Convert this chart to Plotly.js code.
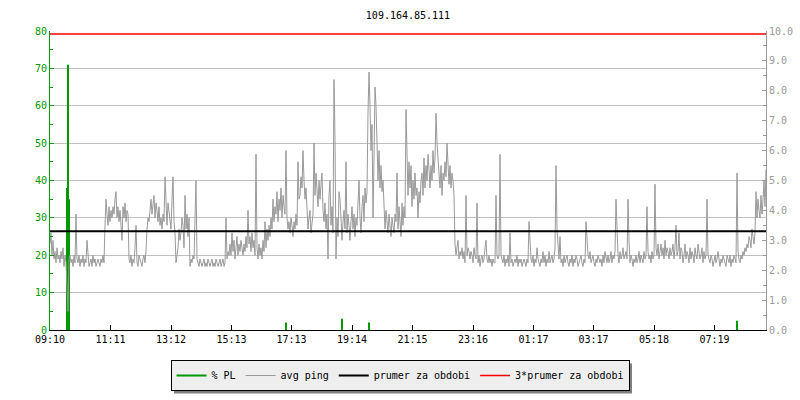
<!DOCTYPE html>
<html>
<head>
<meta charset="utf-8">
<script src="https://cdn.plot.ly/plotly-3.0.1.min.js"></script>
<style>html,body{margin:0;padding:0;background:#fff;}#chart{width:800px;height:400px;}</style>
</head>
<body>
<div id="chart"></div>
<script>
// ---- data ----
const chartTitle = "109.164.85.111";
const tickLabels = ["09:10","11:11","13:12","15:13","17:13","19:14","21:15","23:16","01:17","03:17","05:18","07:19"];
const sampleStepMin = 2; // minutes between ping samples, starting at 09:10
const pingValues = [
  23,26,20,24,19,21,18,22,19,20, 18,21,19,22,17,20,18,12,5,19,
  20,18,19,17,20,18,31,19,18,20, 17,19,18,20,17,19,18,24,19,17,
  18,19,17,20,18,19,17,18,19,18, 17,19,18,20,18,28,35,31,28,33,
  29,32,30,33,31,35,37,30,33,29, 32,28,24,33,30,34,29,32,31,19,
  18,20,17,19,18,22,28,18,17,20, 19,18,17,19,20,18,21,27,30,29,
  32,35,31,33,36,30,34,32,29,33, 28,30,27,31,29,41,33,28,34,31,
  30,27,35,41,29,26,18,20,22,27, 24,26,30,28,22,36,27,31,25,30,
  17,19,18,20,19,30,40,19,18,17, 19,18,17,18,19,17,18,17,19,18,
  17,18,19,17,18,17,19,18,17,18, 19,17,18,19,17,18,30,19,21,20,
  23,20,26,21,24,19,22,25,20,23, 21,24,22,20,23,21,25,22,32,23,
  25,21,26,22,24,20,47,22,19,23, 20,22,19,24,21,29,22,27,24,28,
  25,30,27,35,29,33,31,37,29,35, 32,38,30,36,33,31,48,30,27,29,
  26,30,28,25,29,27,31,28,45,35, 36,41,38,48,40,35,38,32,27,30,
  32,26,29,31,50,36,42,38,33,40, 35,39,42,32,29,34,27,31,19,36,
  40,28,33,26,67,51,19,30,25,37, 35,30,24,29,32,27,45,26,31,28,
  24,29,33,27,31,25,30,28,34,40, 30,26,33,36,29,38,34,37,58,69,
  60,48,55,30,46,65,60,44,40,48, 38,44,37,40,30,27,32,29,26,31,
  28,25,30,27,26,31,29,42,27,33, 30,25,34,28,33,30,59,42,36,45,
  38,44,33,40,35,42,36,38,30,37, 34,40,42,36,46,38,44,40,47,43,
  38,44,40,48,42,46,58,50,45,40, 38,44,36,42,40,45,41,50,43,39,
  44,38,42,40,36,23,20,22,24,19, 21,20,22,19,21,18,36,20,22,21,
  19,21,20,18,22,20,19,34,18,20, 17,19,20,18,19,22,24,19,18,20,
  18,19,17,19,18,18,36,20,19,20, 47,20,19,18,20,17,19,18,20,17,
  26,18,19,17,18,19,18,20,17,19, 18,19,17,18,19,18,17,19,18,29,
  21,19,18,20,17,19,18,22,19,18, 17,19,18,21,18,20,17,19,18,21,
  18,19,20,18,19,22,44,27,21,19, 25,18,19,17,20,18,19,20,18,17,
  19,18,20,17,19,18,20,19,17,18, 19,20,18,17,19,18,29,23,20,19,
  21,18,19,20,18,17,19,18,20,19, 18,19,17,20,18,21,19,18,20,18,
  19,21,18,20,19,21,35,23,20,18, 21,19,20,22,19,20,21,19,35,24,
  18,20,19,17,19,18,20,18,19,21, 18,20,19,18,21,19,20,33,21,19,
  20,18,21,19,20,39,22,20,23,19, 21,23,20,22,19,24,20,22,21,19,
  22,20,21,23,19,22,28,20,21,26, 19,22,21,18,20,23,19,21,20,18,
  22,19,21,20,18,22,20,19,23,21, 19,20,22,18,21,19,20,35,20,19,
  18,20,19,17,19,20,18,19,21,18, 17,19,18,20,19,18,17,20,19,18,
  20,17,19,18,20,19,18,42,21,19, 18,20,19,21,20,22,21,23,22,25,
  24,22,27,25,23,26,37,30,35,32, 30,36,31,35,40,33,43
];
const plTimesMin = [34, 36, 38, 472, 584, 638, 1374];
const plValues   = [38, 71, 35, 2, 3, 2, 2.5];
const meanPing = 26.4;
const seriesNames = ["% PL", "avg ping", "prumer za obdobi", "3*prumer za obdobi"];

// ---- build ----
function toMinutes(lbl, startMin, prevMin) {
  const [h, m] = lbl.split(":").map(Number);
  let t = h * 60 + m - startMin;
  while (t < prevMin) t += 1440;
  return t;
}
const startMin = 9 * 60 + 10;
const tickVals = [];
let prev = 0;
tickLabels.forEach(l => { const t = toMinutes(l, startMin, prev); tickVals.push(t); prev = t; });

const pingX = pingValues.map((_, i) => i * sampleStepMin);
const xEnd = pingX[pingX.length - 1];

const plX = [], plY = [];
plTimesMin.forEach((t, i) => { plX.push(t, t, null); plY.push(0, plValues[i], null); });

const font = "DejaVu Sans Mono, monospace";
const green = "#009900";
const gray = "#999999";

const traces = [
  { x: plX, y: plY, type: "scatter", mode: "lines", name: seriesNames[0],
    line: { color: green, width: 2 }, hoverinfo: "skip" },
  { x: pingX, y: pingValues, type: "scatter", mode: "lines", name: seriesNames[1],
    line: { color: gray, width: 1 } },
  { x: [0, xEnd], y: [meanPing, meanPing], type: "scatter", mode: "lines", name: seriesNames[2],
    line: { color: "#000000", width: 2 } },
  { x: [0, xEnd], y: [3 * meanPing, 3 * meanPing], type: "scatter", mode: "lines", name: seriesNames[3],
    line: { color: "#ff0000", width: 1.5 } },
  { x: [0], y: [0], yaxis: "y2", type: "scatter", mode: "markers", marker: { opacity: 0 },
    showlegend: false, hoverinfo: "skip" }
];

const M = { l: 50, r: 34, t: 31, b: 70 };
const layout = {
  width: 800, height: 400,
  margin: { l: M.l, r: M.r, t: M.t, b: M.b, pad: 0 },
  paper_bgcolor: "#ffffff", plot_bgcolor: "#ffffff",
  font: { family: font, size: 10, color: "#000" },
  title: { text: chartTitle, x: 0.5, xref: "paper", xanchor: "center",
           y: 1 - 15 / 400, yref: "container", yanchor: "middle",
           font: { family: font, size: 10, color: "#000" } },
  showlegend: true,
  legend: { orientation: "h", xref: "container", yref: "container",
            x: 0.5, xanchor: "center", y: 0.1, yanchor: "top",
            bgcolor: "#eeeeee", bordercolor: "#000", borderwidth: 1,
            font: { family: font, size: 10, color: "#000" },
            itemwidth: 30, tracegroupgap: 0 },
  xaxis: { range: [0, xEnd], tickvals: tickVals, ticktext: tickLabels,
           showgrid: false, zeroline: false, showline: true, linecolor: "#000", linewidth: 1,
           ticks: "inside", ticklen: 5, tickcolor: "#000",
           tickfont: { family: font, size: 10, color: "#000" } },
  yaxis: { range: [0, 80], dtick: 10, tick0: 0, showgrid: true, gridcolor: "#c0c0c0", gridwidth: 1,
           zeroline: false, showline: true, linecolor: green, linewidth: 1,
           ticks: "inside", ticklen: 4, tickcolor: green,
           minor: { dtick: 5, ticks: "inside", ticklen: 3, tickcolor: green, showgrid: false },
           tickfont: { family: font, size: 10, color: green } },
  yaxis2: { overlaying: "y", side: "right", range: [0, 10], dtick: 1, tick0: 0, tickformat: ".1f",
            showgrid: false, zeroline: false, showline: true, linecolor: gray, linewidth: 1,
            ticks: "inside", ticklen: 4, tickcolor: gray,
            minor: { dtick: 0.5, ticks: "inside", ticklen: 3, tickcolor: gray, showgrid: false },
            tickfont: { family: font, size: 10, color: gray } }
};

Plotly.newPlot("chart", traces, layout, { displayModeBar: false, staticPlot: true }).then(gd => {
  // drop shadow behind the legend box
  const bg = gd.querySelector(".legend .bg");
  if (!bg) return;
  const r = bg.getBoundingClientRect();
  const g = gd.getBoundingClientRect();
  const pw = 800 - M.l - M.r, ph = 400 - M.t - M.b;
  const px = v => (v - M.l) / pw;
  const py = v => (400 - M.b - v) / ph;
  const x0 = r.left - g.left + 3, x1 = r.right - g.left + 3;
  const y0 = r.top - g.top + 3, y1 = r.bottom - g.top + 3;
  Plotly.relayout(gd, { shapes: [{ type: "rect", xref: "paper", yref: "paper",
    x0: px(x0), x1: px(x1), y0: py(y1), y1: py(y0),
    fillcolor: "#808080", line: { width: 0 }, layer: "below" }] });
});
</script>
</body>
</html>
